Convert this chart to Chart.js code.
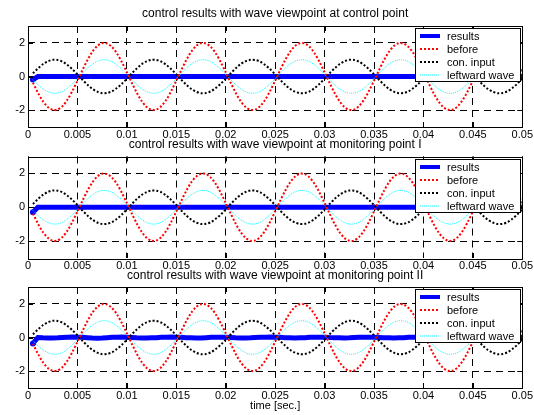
<!DOCTYPE html>
<html><head><meta charset="utf-8">
<script src="https://cdn.jsdelivr.net/npm/chart.js@4/dist/chart.umd.min.js"></script>
<style>
html,body{margin:0;padding:0;background:#fff;}
#wrap{position:relative;width:534px;height:415px;overflow:hidden;background:#fff;}
canvas{position:absolute;left:0;}
</style></head><body>
<div id="wrap">
<canvas id="c1" width="534" height="142" style="top:0px;width:534px;height:142px"></canvas>
<canvas id="c2" width="534" height="140" style="top:133px;width:534px;height:140px"></canvas>
<canvas id="c3" width="534" height="151" style="top:264px;width:534px;height:151px"></canvas>
</div>
<script>
// ---------- data ----------
const titles = [
  "control results with wave viewpoint at control point",
  "control results with wave viewpoint at monitoring point I",
  "control results with wave viewpoint at monitoring point II"
];
const seriesNames = ["results", "before", "con. input", "leftward wave"];
const xAxisTitle = "time [sec.]";
const xTickValues = [0,0.005,0.01,0.015,0.02,0.025,0.03,0.035,0.04,0.045,0.05];
const xTickLabels = ["0","0.005","0.01","0.015","0.02","0.025","0.03","0.035","0.04","0.045","0.05"];
const yTickValues = [-2,0,2];
const yTickLabels = ["-2","0","2"];

const time = [
0.0005,0.001,0.0015,0.002,0.0025,0.003,0.0035,0.004,0.0045,0.005,
0.0055,0.006,0.0065,0.007,0.0075,0.008,0.0085,0.009,0.0095,0.01,
0.0105,0.011,0.0115,0.012,0.0125,0.013,0.0135,0.014,0.0145,0.015,
0.0155,0.016,0.0165,0.017,0.0175,0.018,0.0185,0.019,0.0195,0.02,
0.0205,0.021,0.0215,0.022,0.0225,0.023,0.0235,0.024,0.0245,0.025,
0.0255,0.026,0.0265,0.027,0.0275,0.028,0.0285,0.029,0.0295,0.03,
0.0305,0.031,0.0315,0.032,0.0325,0.033,0.0335,0.034,0.0345,0.035,
0.0355,0.036,0.0365,0.037,0.0375,0.038,0.0385,0.039,0.0395,0.04,
0.0405,0.041,0.0415,0.042,0.0425,0.043,0.0435,0.044,0.0445,0.045,
0.0455,0.046,0.0465,0.047,0.0475,0.048,0.0485,0.049,0.0495,0.05
];

const before = [
-0.37,-0.96,-1.46,-1.81,-1.98,-1.96,-1.75,-1.37,-0.85,-0.25,
0.37,0.96,1.46,1.81,1.98,1.96,1.75,1.37,0.85,0.25,
-0.37,-0.96,-1.46,-1.81,-1.98,-1.96,-1.75,-1.37,-0.85,-0.25,
0.37,0.96,1.46,1.81,1.98,1.96,1.75,1.37,0.85,0.25,
-0.37,-0.96,-1.46,-1.81,-1.98,-1.96,-1.75,-1.37,-0.85,-0.25,
0.37,0.96,1.46,1.81,1.98,1.96,1.75,1.37,0.85,0.25,
-0.37,-0.96,-1.46,-1.81,-1.98,-1.96,-1.75,-1.37,-0.85,-0.25,
0.37,0.96,1.46,1.81,1.98,1.96,1.75,1.37,0.85,0.25,
-0.37,-0.96,-1.46,-1.81,-1.98,-1.96,-1.75,-1.37,-0.85,-0.25,
0.37,0.96,1.46,1.81,1.98,1.96,1.75,1.37,0.85,0.25
];

const conInput = [
0.19,0.48,0.73,0.90,0.99,0.98,0.88,0.68,0.43,0.13,
-0.19,-0.48,-0.73,-0.90,-0.99,-0.98,-0.88,-0.68,-0.43,-0.13,
0.19,0.48,0.73,0.90,0.99,0.98,0.88,0.68,0.43,0.13,
-0.19,-0.48,-0.73,-0.90,-0.99,-0.98,-0.88,-0.68,-0.43,-0.13,
0.19,0.48,0.73,0.90,0.99,0.98,0.88,0.68,0.43,0.13,
-0.19,-0.48,-0.73,-0.90,-0.99,-0.98,-0.88,-0.68,-0.43,-0.13,
0.19,0.48,0.73,0.90,0.99,0.98,0.88,0.68,0.43,0.13,
-0.19,-0.48,-0.73,-0.90,-0.99,-0.98,-0.88,-0.68,-0.43,-0.13,
0.19,0.48,0.73,0.90,0.99,0.98,0.88,0.68,0.43,0.13,
-0.19,-0.48,-0.73,-0.90,-0.99,-0.98,-0.88,-0.68,-0.43,-0.13
];

const leftwardWave = [
-0.19,-0.48,-0.73,-0.90,-0.99,-0.98,-0.88,-0.68,-0.43,-0.13,
0.19,0.48,0.73,0.90,0.99,0.98,0.88,0.68,0.43,0.13,
-0.19,-0.48,-0.73,-0.90,-0.99,-0.98,-0.88,-0.68,-0.43,-0.13,
0.19,0.48,0.73,0.90,0.99,0.98,0.88,0.68,0.43,0.13,
-0.19,-0.48,-0.73,-0.90,-0.99,-0.98,-0.88,-0.68,-0.43,-0.13,
0.19,0.48,0.73,0.90,0.99,0.98,0.88,0.68,0.43,0.13,
-0.19,-0.48,-0.73,-0.90,-0.99,-0.98,-0.88,-0.68,-0.43,-0.13,
0.19,0.48,0.73,0.90,0.99,0.98,0.88,0.68,0.43,0.13,
-0.19,-0.48,-0.73,-0.90,-0.99,-0.98,-0.88,-0.68,-0.43,-0.13,
0.19,0.48,0.73,0.90,0.99,0.98,0.88,0.68,0.43,0.13
];

const resultsControl = [
-0.18,0,0,0,0,0,0,0,0,0,
0,0,0,0,0,0,0,0,0,0,
0,0,0,0,0,0,0,0,0,0,
0,0,0,0,0,0,0,0,0,0,
0,0,0,0,0,0,0,0,0,0,
0,0,0,0,0,0,0,0,0,0,
0,0,0,0,0,0,0,0,0,0,
0,0,0,0,0,0,0,0,0,0,
0,0,0,0,0,0,0,0,0,0,
0,0,0,0,0,0,0,0,0,0
];

const resultsMonitorI = [
-0.30,0,0,0,0,0,0,0,0,0,
0,0,0,0,0,0,0,0,0,0,
0,0,0,0,0,0,0,0,0,0,
0,0,0,0,0,0,0,0,0,0,
0,0,0,0,0,0,0,0,0,0,
0,0,0,0,0,0,0,0,0,0,
0,0,0,0,0,0,0,0,0,0,
0,0,0,0,0,0,0,0,0,0,
0,0,0,0,0,0,0,0,0,0,
0,0,0,0,0,0,0,0,0,0
];

const resultsMonitorII = [
-0.35,0.00,-0.02,-0.03,-0.03,-0.02,0.00,0.02,0.03,0.02,
0.01,-0.01,-0.03,-0.04,-0.03,-0.01,0.01,0.02,0.03,0.02,
0.00,-0.02,-0.03,-0.03,-0.02,-0.01,0.01,0.02,0.03,0.02,
0.01,-0.01,-0.02,-0.03,-0.03,-0.01,0.01,0.02,0.02,0.02,
0.00,-0.02,-0.03,-0.03,-0.02,0.00,0.01,0.02,0.03,0.02,
0.01,-0.01,-0.02,-0.03,-0.02,-0.01,0.01,0.02,0.02,0.02,
0.00,-0.01,-0.02,-0.03,-0.02,0.00,0.01,0.02,0.02,0.01,
0.00,-0.01,-0.02,-0.03,-0.02,-0.01,0.01,0.02,0.02,0.01,
0.00,-0.01,-0.02,-0.02,-0.02,0.00,0.01,0.02,0.02,0.01,
0.00,-0.01,-0.02,-0.02,-0.01,0.00,0.01,0.02,0.02,0.01
];

// ---------- drawing ----------
const FONT = '"Liberation Sans", Arial, Helvetica, sans-serif';
Chart.defaults.font.family = FONT;
Chart.defaults.font.size = 11;
Chart.defaults.color = '#000';

const framePlugin = {
  id: 'frame',
  afterDatasetsDraw(chart) {
    const {ctx, chartArea: a, scales: {x, y}} = chart;
    ctx.save();
    ctx.strokeStyle = '#000'; ctx.lineWidth = 1; ctx.setLineDash([]);
    ctx.beginPath();
    xTickValues.forEach(v => {
      const px = Math.round(x.getPixelForValue(v)) + 0.5;
      ctx.moveTo(px, a.top); ctx.lineTo(px, a.top + 5);
      ctx.moveTo(px, a.bottom); ctx.lineTo(px, a.bottom - 5);
    });
    yTickValues.forEach(v => {
      const py = Math.round(y.getPixelForValue(v)) + 0.5;
      ctx.moveTo(a.left, py); ctx.lineTo(a.left + 5, py);
      ctx.moveTo(a.right, py); ctx.lineTo(a.right - 5, py);
    });
    ctx.stroke();
    ctx.strokeRect(Math.round(a.left) + 0.5, Math.round(a.top) + 0.5,
                   Math.round(a.right - a.left), Math.round(a.bottom - a.top));
    ctx.restore();
  }
};

const legendPlugin = {
  id: 'boxLegend',
  afterDraw(chart) {
    const {ctx, chartArea: a} = chart;
    const w = 105, h = 53;
    const x0 = Math.round(a.right) - w - 2, y0 = Math.round(a.top) + 2;
    ctx.save();
    ctx.fillStyle = '#fff'; ctx.fillRect(x0, y0, w, h);
    ctx.strokeStyle = '#000'; ctx.lineWidth = 1; ctx.setLineDash([]);
    ctx.strokeRect(x0 + 0.5, y0 + 0.5, w, h);
    chart.data.datasets.forEach((ds, i) => {
      const yy = y0 + 8 + i * 13;
      ctx.beginPath();
      ctx.strokeStyle = ds.borderColor;
      ctx.lineWidth = ds.borderWidth > 3 ? 4 : ds.borderWidth;
      ctx.setLineDash(ds.borderDash || []);
      ctx.moveTo(x0 + 5, yy); ctx.lineTo(x0 + 25, yy);
      ctx.stroke();
      ctx.setLineDash([]);
      ctx.fillStyle = '#000';
      ctx.font = '11px ' + FONT;
      ctx.textBaseline = 'middle'; ctx.textAlign = 'left';
      ctx.fillText(ds.label, x0 + 32, yy + 0.5);
    });
    ctx.restore();
  }
};

function pts(arr) { return time.map((t, i) => ({x: t, y: arr[i]})); }

function makeChart(id, titleText, results, cfg) {
  const datasets = [
    {label: seriesNames[0], data: pts(results), borderColor: '#0000ff', backgroundColor: '#0000ff',
     borderWidth: 5, order: 2,
     pointRadius: c => c.dataIndex === 0 ? 3 : 0, pointBorderWidth: 0, pointBackgroundColor: '#0000ff'},
    {label: seriesNames[1], data: pts(before), borderColor: '#ff0000', borderWidth: 2, borderDash: [2, 2],
     pointRadius: 0, tension: 0.3, order: 1},
    {label: seriesNames[2], data: pts(conInput), borderColor: '#000000', borderWidth: 2, borderDash: [2, 2],
     pointRadius: 0, tension: 0.3, order: 1},
    {label: seriesNames[3], data: pts(leftwardWave), borderColor: '#00ffff', borderWidth: 1, borderDash: [1, 1],
     pointRadius: 0, tension: 0.3, order: 1}
  ];
  return new Chart(document.getElementById(id), {
    type: 'line',
    data: {datasets},
    plugins: [framePlugin, legendPlugin],
    options: {
      responsive: false, animation: false, events: [],
      layout: {padding: {left: 0, right: 11, top: 0, bottom: 0}},
      plugins: {
        legend: {display: false}, tooltip: {enabled: false},
        title: {display: true, text: titleText, fullSize: false, color: '#000',
                font: {size: 12, weight: 'normal', family: FONT},
                padding: {top: cfg.tpt, bottom: cfg.tpb}}
      },
      scales: {
        x: {
          type: 'linear', min: 0, max: 0.05,
          afterBuildTicks: s => { s.ticks = xTickValues.map(v => ({value: v})); },
          afterFit: s => { s.height = cfg.xh; },
          ticks: {callback: (v, i) => xTickLabels[i], autoSkip: false, maxRotation: 0,
                  padding: 1, color: '#000', font: {size: 11}},
          grid: {color: '#000', lineWidth: 1, drawTicks: false},
          border: {display: false, dash: [7, 5]},
          title: {display: !!cfg.xtitle, text: xAxisTitle, color: '#000', font: {size: 11},
                  padding: {top: 0, bottom: 2}}
        },
        y: {
          type: 'linear', min: -3, max: 3,
          afterBuildTicks: s => { s.ticks = yTickValues.map(v => ({value: v})); },
          afterFit: s => { s.width = 28; },
          ticks: {callback: (v, i) => yTickLabels[i], padding: 3, color: '#000', font: {size: 11}},
          grid: {color: '#000', lineWidth: 1, drawTicks: false},
          border: {display: false, dash: [7, 5]}
        }
      }
    }
  });
}

makeChart('c1', titles[0], resultsControl, {tpt: 6.8, tpb: 4.8, xh: 15});
makeChart('c2', titles[1], resultsMonitorI, {tpt: 4.8, tpb: 4.3, xh: 15});
makeChart('c3', titles[2], resultsMonitorII, {tpt: 4.8, tpb: 3.8, xh: 27, xtitle: true});
</script>
</body></html>
